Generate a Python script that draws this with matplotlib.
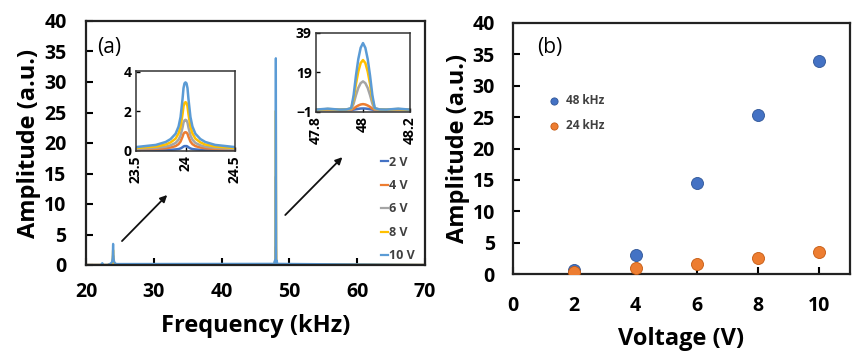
import matplotlib
matplotlib.use("Agg")
import matplotlib.pyplot as plt

plt.rcParams['font.family'] = ['Open Sans', 'DejaVu Sans']
plt.rcParams['font.weight'] = 'bold'

# ---------------- data ----------------
voltages = ["2 V", "4 V", "6 V", "8 V", "10 V"]
colors = ["#4472C4", "#ED7D31", "#A5A5A5", "#FFC000", "#5B9BD5"]

# 24 kHz resonance (inset 1)
f24 = [23.5, 23.7, 23.8, 23.85, 23.9, 23.93, 23.95, 23.97, 23.98, 23.99, 24.0,
       24.01, 24.02, 24.03, 24.05, 24.07, 24.1, 24.15, 24.2, 24.3, 24.5]
a24_2 = [0.01, 0.02, 0.02, 0.03, 0.05, 0.07, 0.10, 0.16, 0.20, 0.22, 0.22,
         0.22, 0.20, 0.16, 0.10, 0.07, 0.05, 0.03, 0.02, 0.02, 0.01]
a24_4 = [0.05, 0.08, 0.11, 0.15, 0.22, 0.32, 0.45, 0.70, 0.85, 0.91, 0.93,
         0.91, 0.85, 0.70, 0.45, 0.32, 0.22, 0.15, 0.11, 0.08, 0.05]
a24_6 = [0.08, 0.13, 0.19, 0.26, 0.38, 0.55, 0.76, 1.17, 1.42, 1.53, 1.56,
         1.53, 1.42, 1.17, 0.76, 0.55, 0.38, 0.26, 0.19, 0.13, 0.08]
a24_8 = [0.12, 0.20, 0.30, 0.41, 0.60, 0.87, 1.20, 1.85, 2.25, 2.42, 2.46,
         2.42, 2.25, 1.85, 1.20, 0.87, 0.60, 0.41, 0.30, 0.20, 0.12]
a24_10 = [0.17, 0.28, 0.43, 0.58, 0.85, 1.22, 1.70, 2.62, 3.18, 3.42, 3.47,
          3.42, 3.18, 2.62, 1.70, 1.22, 0.85, 0.58, 0.43, 0.28, 0.17]

# 48 kHz resonance (inset 2)
f48 = [47.8, 47.85, 47.87, 47.9, 47.93, 47.95, 47.96, 47.97, 47.98, 47.99, 48.0,
       48.01, 48.02, 48.03, 48.04, 48.05, 48.07, 48.1, 48.13, 48.15, 48.2]
a48_2 = [0.0, 0.0, 0.0, 0.0, 0.0, 0.0, 0.2, 0.4, 0.6, 0.75, 0.8,
         0.75, 0.6, 0.4, 0.2, 0.0, 0.0, 0.0, 0.0, 0.0, 0.0]
a48_4 = [0.0, 0.1, 0.0, 0.0, 0.0, 0.1, 0.7, 1.6, 2.3, 2.8, 3.0,
         2.8, 2.3, 1.6, 0.7, 0.1, 0.0, 0.0, 0.0, 0.1, 0.0]
a48_6 = [0.1, 0.3, 0.2, 0.1, 0.1, 0.4, 3.2, 7.5, 11.2, 13.6, 14.5,
         13.6, 11.2, 7.5, 3.2, 0.4, 0.1, 0.1, 0.2, 0.3, 0.1]
a48_8 = [0.1, 0.5, 0.4, 0.1, 0.3, 0.8, 5.6, 13.2, 19.5, 23.8, 25.3,
         23.8, 19.5, 13.2, 5.6, 0.8, 0.3, 0.1, 0.4, 0.5, 0.1]
a48_10 = [0.2, 0.7, 0.5, 0.2, 0.3, 1.0, 7.4, 17.4, 25.8, 31.5, 33.9,
          31.5, 25.8, 17.4, 7.4, 1.0, 0.3, 0.2, 0.5, 0.7, 0.2]

# small spurious bump near 22.4 kHz in the full spectrum
fbump = [20.0, 22.2, 22.4, 22.6, 23.2]
bump_2 = [0.0, 0.0, 0.0, 0.0, 0.0]
bump_4 = [0.0, 0.0, 0.05, 0.0, 0.0]
bump_6 = [0.0, 0.0, 0.1, 0.0, 0.0]
bump_8 = [0.0, 0.0, 0.15, 0.0, 0.0]
bump_10 = [0.0, 0.0, 0.3, 0.0, 0.0]
fend = [70.0]
aend = [0.0]

# panel (b)
volt = [2, 4, 6, 8, 10]
amp48 = [0.7, 3.0, 14.5, 25.3, 33.9]
amp24 = [0.3, 1.0, 1.6, 2.5, 3.5]

a24 = [a24_2, a24_4, a24_6, a24_8, a24_10]
a48 = [a48_2, a48_4, a48_6, a48_8, a48_10]
bumps = [bump_2, bump_4, bump_6, bump_8, bump_10]

# ---------------- figure ----------------
W, H = 864, 359
fig = plt.figure(figsize=(W / 100, H / 100), dpi=100)

def rect(x0, y0, x1, y1):
    return [x0 / W, 1 - y1 / H, (x1 - x0) / W, (y1 - y0) / H]

tick_fs = 14
lab_fs = 17

def style_main(ax, xpad, ypad):
    for s in ax.spines.values():
        s.set_linewidth(1.6)
        s.set_color("#222222")
    ax.tick_params(direction="in", length=5, width=1.5, labelsize=tick_fs)
    ax.tick_params(axis="x", pad=xpad)
    ax.tick_params(axis="y", pad=ypad)

# ----- panel (a) -----
axa = fig.add_axes(rect(86, 21, 425, 265))
for i in range(5):
    fx = fbump + f24 + f48 + fend
    fy = bumps[i] + a24[i] + a48[i] + aend
    axa.plot(fx, fy, color=colors[i], lw=1.6, label=voltages[i])
axa.set_xlim(20, 70)
axa.set_ylim(0, 40)
axa.set_xticks([20, 30, 40, 50, 60, 70])
axa.set_yticks(range(0, 41, 5))
style_main(axa, 12, 14)
axa.set_xlabel("Frequency (kHz)", fontsize=lab_fs, fontweight="bold", labelpad=9)
axa.set_ylabel("Amplitude (a.u.)", fontsize=lab_fs, fontweight="bold", labelpad=2)
axa.text(0.032, 0.893, "(a)", transform=axa.transAxes, fontsize=15,
         fontweight="normal", va="center", ha="left")

axa.annotate("", xy=(32.26, 11.8), xytext=(25.02, 3.6),
             arrowprops=dict(arrowstyle="-|>", color="#111111", lw=1.3, mutation_scale=10))
axa.annotate("", xy=(58.1, 18.0), xytext=(49.1, 7.87),
             arrowprops=dict(arrowstyle="-|>", color="#111111", lw=1.3, mutation_scale=10))

leg = axa.legend(loc="center left", bbox_to_anchor=(370 / W, 1 - 209 / H),
                 bbox_transform=fig.transFigure, frameon=False,
                 handlelength=0.55, handletextpad=0.1, labelspacing=0.83,
                 prop=dict(size=9, weight="bold"))
for t in leg.get_texts():
    t.set_color("#404040")

def style_inset(ax):
    for s in ax.spines.values():
        s.set_linewidth(1.1)
        s.set_color("#333333")
    ax.tick_params(direction="in", length=3, width=1, labelsize=10, pad=3)
    for lab in ax.get_xticklabels():
        lab.set_rotation(90)

ax1 = fig.add_axes(rect(136, 71, 235, 151))
for i in range(5):
    ax1.plot(f24, a24[i], color=colors[i], lw=1.8)
ax1.set_xlim(23.5, 24.5)
ax1.set_ylim(-0.03, 4.05)
ax1.set_xticks([23.5, 24, 24.5])
ax1.set_xticklabels(["23.5", "24", "24.5"])
ax1.set_yticks([0, 2, 4])
style_inset(ax1)

ax2 = fig.add_axes(rect(316, 33, 410, 112))
for i in range(5):
    ax2.plot(f48, a48[i], color=colors[i], lw=1.8)
ax2.set_xlim(47.8, 48.2)
ax2.set_ylim(-1, 39)
ax2.set_xticks([47.8, 48, 48.2])
ax2.set_xticklabels(["47.8", "48", "48.2"])
ax2.set_yticks([-1, 19, 39])
ax2.set_yticklabels(["\u22121", "19", "39"])
style_inset(ax2)

# ----- panel (b) -----
axb = fig.add_axes(rect(513, 23, 850, 274))
axb.scatter(volt, amp48, s=75, color="#4472C4", edgecolor="#2F5597", linewidth=0.6,
            label="48 kHz", zorder=3)
axb.scatter(volt, amp24, s=75, color="#ED7D31", edgecolor="#C55A11", linewidth=0.6,
            label="24 kHz", zorder=3)
axb.set_xlim(0, 11)
axb.set_ylim(0, 40)
axb.set_xticks([0, 2, 4, 6, 8, 10])
axb.set_yticks(range(0, 41, 5))
style_main(axb, 16, 13)
axb.set_xlabel("Voltage (V)", fontsize=lab_fs, fontweight="bold", labelpad=8)
axb.set_ylabel("Amplitude (a.u.)", fontsize=lab_fs, fontweight="bold", labelpad=2)
axb.text(0.071, 0.904, "(b)", transform=axb.transAxes, fontsize=15,
         fontweight="normal", va="center", ha="left")
legb = axb.legend(loc="center left", bbox_to_anchor=(532 / W, 1 - 113 / H),
                  bbox_transform=fig.transFigure, frameon=False,
                  handletextpad=0.0, labelspacing=1.0, markerscale=0.6,
                  prop=dict(size=8.5, weight="bold"))
for t in legb.get_texts():
    t.set_color("#404040")

fig.savefig("out.png", dpi=100)
